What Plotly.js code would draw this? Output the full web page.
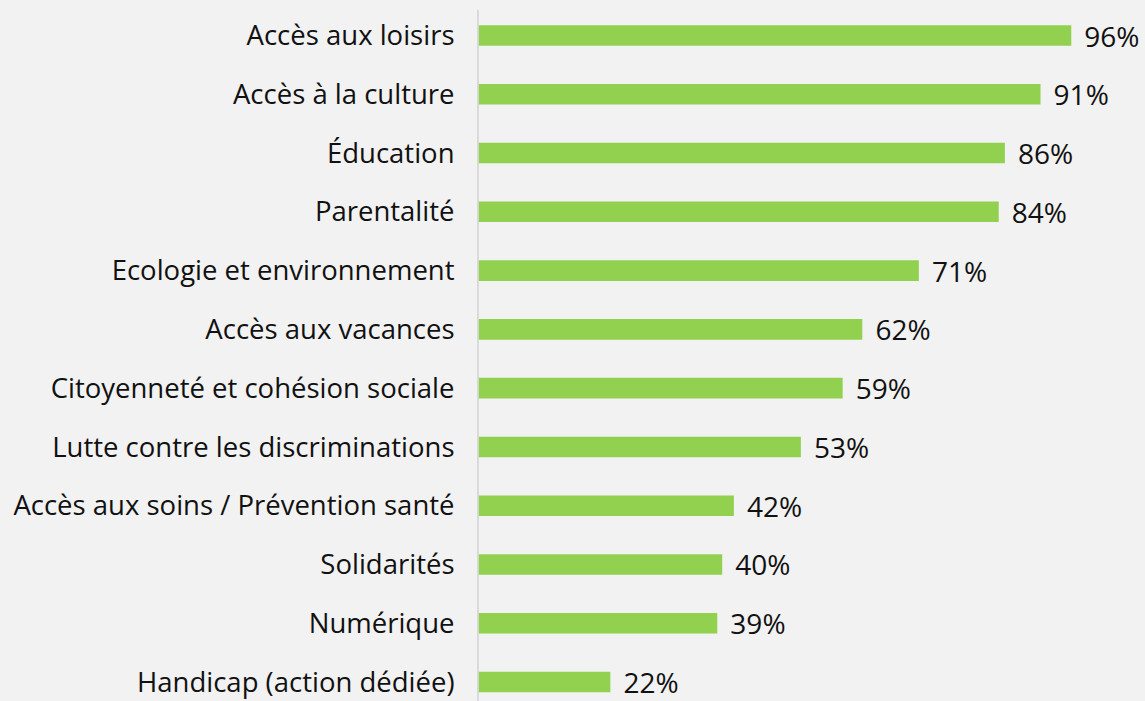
<!DOCTYPE html>
<html>
<head>
<meta charset="utf-8">
<script src="https://cdn.plot.ly/plotly-3.0.1.min.js"></script>
<style>
html,body{margin:0;padding:0;background:#f2f2f2;}
#chart{width:1145px;height:701px;}
</style>
</head>
<body>
<div id="chart"></div>
<script>
const categories = [
  "Accès aux loisirs",
  "Accès à la culture",
  "Éducation",
  "Parentalité",
  "Ecologie et environnement",
  "Accès aux vacances",
  "Citoyenneté et cohésion sociale",
  "Lutte contre les discriminations",
  "Accès aux soins / Prévention santé",
  "Solidarités",
  "Numérique",
  "Handicap (action dédiée)"
];
const values = [96.4, 91.4, 85.6, 84.6, 71.6, 62.4, 59.2, 52.4, 41.5, 39.6, 38.8, 21.4];
const valueLabels = ["96%", "91%", "86%", "84%", "71%", "62%", "59%", "53%", "42%", "40%", "39%", "22%"];

const FONT = "'Open Sans', Lato, sans-serif";

const trace = {
  type: "bar",
  orientation: "h",
  y: categories,
  x: values,
  text: valueLabels,
  texttemplate: "\u00a0\u200a%{text}",
  textposition: "outside",
  constraintext: "none",
  cliponaxis: false,
  textfont: {family: FONT, size: 28, color: "#111111"},
  marker: {color: "#92d050"},
  width: 0.35,
  hoverinfo: "skip"
};

const layout = {
  width: 1145,
  height: 701,
  paper_bgcolor: "#f2f2f2",
  plot_bgcolor: "#f2f2f2",
  margin: {l: 477, r: 0, t: 0, b: 0},
  showlegend: false,
  font: {family: FONT, size: 27, color: "#111111"},
  xaxis: {
    range: [-0.3, 108.4],
    showgrid: false,
    zeroline: false,
    showline: false,
    showticklabels: false,
    ticks: ""
  },
  yaxis: {
    type: "category",
    range: [11.323, -0.604],
    showgrid: false,
    zeroline: false,
    showline: false,
    ticks: "outside",
    ticklen: 16,
    tickcolor: "rgba(0,0,0,0)",
    tickfont: {family: FONT, size: 27.5, color: "#111111"}
  },
  shapes: [{
    type: "line",
    xref: "x", yref: "paper",
    x0: -0.15, x1: -0.15, y0: 0, y1: 0.986,
    layer: "below",
    line: {color: "#d9d9d9", width: 2}
  }]
};

Plotly.newPlot("chart", [trace], layout, {displayModeBar: false, staticPlot: true});
</script>
</body>
</html>
